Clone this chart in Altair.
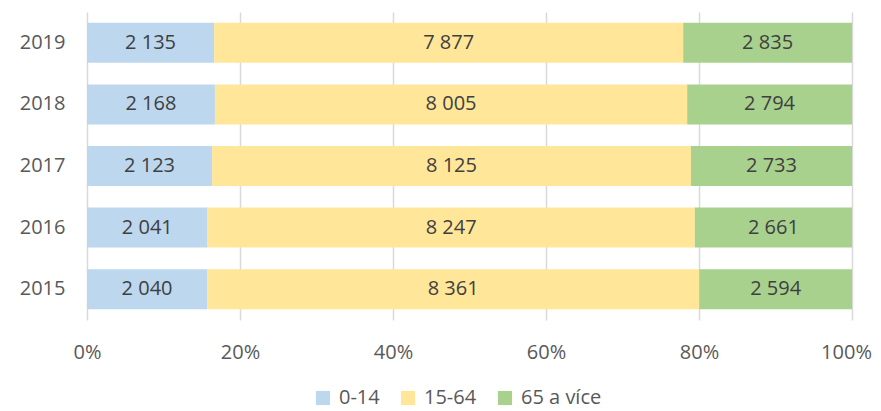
import altair as alt
import pandas as pd

years = ["2019", "2018", "2017", "2016", "2015"]
groups = ["0-14", "15-64", "65 a více"]
v_0_14 = [2135, 2168, 2123, 2041, 2040]
v_15_64 = [7877, 8005, 8125, 8247, 8361]
v_65 = [2835, 2794, 2733, 2661, 2594]
colors = ["#BDD7EE", "#FFE699", "#A9D18E"]

rows = []
for i, y in enumerate(years):
    for k, (g, vals) in enumerate(zip(groups, [v_0_14, v_15_64, v_65])):
        rows.append({"year": y, "group": g, "value": vals[i], "ord": k})
df = pd.DataFrame(rows)

FONT = "Open Sans"
FS = 20

base = alt.Chart(df).transform_stack(
    stack="value", groupby=["year"], as_=["x0", "x1"], offset="normalize",
    sort=[alt.SortField("ord", order="ascending")]
).transform_calculate(
    mid="(datum.x0 + datum.x1) / 2",
    lbl="replace(format(datum.value, ','), ',', ' ')"
)

yenc = alt.Y("year:N", sort=years, title=None,
             scale=alt.Scale(paddingInner=0.35, paddingOuter=0.175),
             axis=alt.Axis(domain=False, ticks=False, labelFontSize=FS, labelColor="#595959",
                           labelFont=FONT, labelPadding=22))

bars = base.mark_bar().encode(
    x=alt.X("x0:Q", title=None, scale=alt.Scale(domain=[0, 1]),
            axis=alt.Axis(format=".0%", values=[0, 0.2, 0.4, 0.6, 0.8, 1.0], domain=False, ticks=False,
                          grid=True, gridColor="#D9D9D9", gridWidth=1.5, labelFontSize=FS, labelColor="#595959",
                          labelFont=FONT, labelPadding=22, labelFlush=False,
                          labelOffset={"condition": {"test": "datum.value == 1", "value": -6}, "value": 0})),
    x2="x1:Q",
    y=yenc,
    color=alt.Color("group:N", sort=groups,
                    scale=alt.Scale(domain=groups, range=colors),
                    legend=alt.Legend(title=None, orient="none", direction="horizontal",
                                      legendX=226, legendY=376, symbolType="square", symbolSize=200,
                                      symbolStrokeWidth=0, labelFontSize=FS, labelColor="#595959",
                                      labelFont=FONT, columnPadding=18, labelOffset=6)),
)

text = base.mark_text(fontSize=FS, color="#404040", font=FONT).encode(
    x=alt.X("mid:Q"),
    y=alt.Y("year:N", sort=years),
    text="lbl:N",
)

chart = alt.layer(bars, text).properties(
    width=765, height=308,
    autosize=alt.AutoSizeParams(type="none"),
    padding={"left": 79, "top": 4, "right": 20, "bottom": 91},
).configure_view(stroke=None)

chart.save("out.html", embed_options={"renderer": "svg", "actions": False})
